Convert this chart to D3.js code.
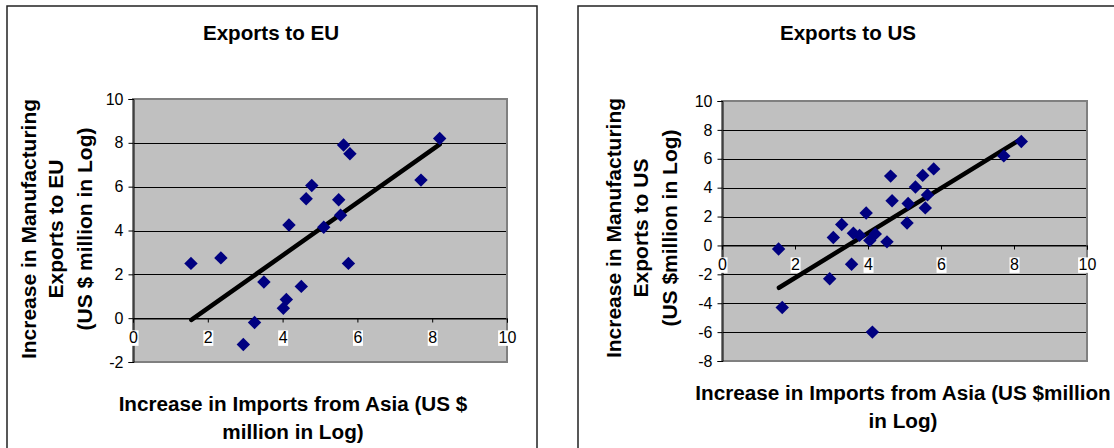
<!DOCTYPE html>
<html>
<head>
<meta charset="utf-8">
<script src="https://cdn.jsdelivr.net/npm/d3@7"></script>
<style>
  html, body { margin: 0; padding: 0; background: #fff; }
  svg { display: block; font-family: "Liberation Sans", Arial, sans-serif; }
</style>
</head>
<body>
<svg id="chart" width="1114" height="448"></svg>
<script>
// ---- Data ----
const xTicks = [0, 2, 4, 6, 8, 10];
const euYTicks = [-2, 0, 2, 4, 6, 8, 10];
const usYTicks = [-8, -6, -4, -2, 0, 2, 4, 6, 8, 10];

const euX = [1.55, 2.35, 2.95, 3.25, 3.5, 4.02, 4.1, 4.17, 4.5, 4.63, 4.78, 5.1, 5.5, 5.55, 5.63, 5.8, 5.76, 7.7, 8.2];
const euY = [2.5, 2.75, -1.2, -0.2, 1.65, 0.45, 0.85, 4.25, 1.45, 5.45, 6.05, 4.15, 5.4, 4.7, 7.9, 7.5, 2.5, 6.3, 8.2];
const euTrendX = [1.56, 8.2];
const euTrendY = [-0.08, 7.93];

const usX = [1.55, 1.65, 2.95, 3.05, 3.28, 3.55, 3.6, 3.77, 3.95, 4.05, 4.2, 4.12, 4.52, 4.62, 4.66, 5.07, 5.1, 5.3, 5.5, 5.57, 5.63, 5.8, 7.72, 8.2];
const usY = [-0.25, -4.3, -2.3, 0.55, 1.45, -1.3, 0.85, 0.7, 2.25, 0.35, 0.8, -6.0, 0.25, 4.8, 3.1, 1.55, 2.9, 4.05, 4.85, 2.6, 3.5, 5.3, 6.2, 7.2];
const usTrendX = [1.56, 8.19];
const usTrendY = [-2.93, 7.37];

const euTitle = "Exports to EU";
const euYTitle = ["Increase in Manufacturing", "Exports to EU", "(US $ million in Log)"];
const euXTitle = ["Increase in Imports from Asia (US $", "million in Log)"];
const usTitle = "Exports to US";
const usYTitle = ["Increase in Manufacturing", "Exports to US", "(US $million in Log)"];
const usXTitle = ["Increase in Imports from Asia (US $million", "in Log)"];

const svg = d3.select("#chart");
const fmt = d => String(d);

function drawChart(cfg) {
  const g = svg.append("g");
  // outer frame
  g.append("rect")
    .attr("x", cfg.box[0]).attr("y", cfg.box[1])
    .attr("width", cfg.box[2]).attr("height", cfg.box[3])
    .attr("fill", "#fff").attr("stroke", "#222").attr("stroke-width", 1.5);

  const x = d3.scaleLinear().domain([0, 10]).range([cfg.plot.left, cfg.plot.right]);
  const y = d3.scaleLinear().domain(cfg.yDomain).range([cfg.plot.bottom, cfg.plot.top]);

  // plot area
  g.append("rect")
    .attr("x", cfg.plot.left).attr("y", cfg.plot.top)
    .attr("width", cfg.plot.right - cfg.plot.left)
    .attr("height", cfg.plot.bottom - cfg.plot.top)
    .attr("fill", "#c0c0c0");

  // gridlines
  g.append("g").selectAll("line").data(cfg.yTicks.filter(v => v !== cfg.yDomain[0] && v !== cfg.yDomain[1]))
    .join("line")
    .attr("x1", cfg.plot.left).attr("x2", cfg.plot.right)
    .attr("y1", d => Math.round(y(d)) + 0.5).attr("y2", d => Math.round(y(d)) + 0.5)
    .attr("stroke", "#000").attr("stroke-width", 1);

  // plot border (gray)
  g.append("rect")
    .attr("x", cfg.plot.left).attr("y", cfg.plot.top)
    .attr("width", cfg.plot.right - cfg.plot.left)
    .attr("height", cfg.plot.bottom - cfg.plot.top)
    .attr("fill", "none").attr("stroke", "#808080").attr("stroke-width", 2);

  // y axis
  const yAxis = d3.axisLeft(y).tickValues(cfg.yTicks).tickSize(5).tickPadding(5).tickFormat(fmt);
  const ya = g.append("g").attr("transform", `translate(${cfg.plot.left + 0.5},0)`).call(yAxis);
  ya.select(".domain").attr("stroke", "#000");
  ya.selectAll(".tick line").attr("stroke", "#000");
  ya.selectAll("text").attr("font-size", 16).attr("fill", "#000")
    .attr("font-family", "Liberation Sans, Arial, sans-serif");

  // x axis at y = 0
  const y0 = Math.round(y(0)) + 0.5;
  const xAxis = d3.axisBottom(x).tickValues(xTicks).tickSize(4).tickPadding(9).tickFormat(fmt);
  const xa = g.append("g").attr("transform", `translate(0,${y0})`).call(xAxis);
  xa.select(".domain").attr("stroke", "#000");
  xa.selectAll(".tick line").attr("stroke", "#000");
  xa.selectAll(".tick text").attr("font-size", 16).attr("fill", "#000")
    .attr("font-family", "Liberation Sans, Arial, sans-serif");
  // white label backgrounds
  xa.selectAll(".tick").each(function () {
    const t = d3.select(this).select("text");
    const bb = t.node().getBBox();
    d3.select(this).insert("rect", "text")
      .attr("x", bb.x - 0.5).attr("y", bb.y + 1.5)
      .attr("width", bb.width + 1).attr("height", bb.height - 1.5)
      .attr("fill", "#fff");
  });

  // trend line
  const trend = d3.zip(cfg.trendX, cfg.trendY);
  g.append("path")
    .attr("d", d3.line().x(d => x(d[0])).y(d => y(d[1]))(trend))
    .attr("fill", "none").attr("stroke", "#000").attr("stroke-width", 4.5)
    .attr("stroke-linecap", "round");

  // points
  const pts = d3.zip(cfg.xs, cfg.ys);
  const sym = d3.symbol(d3.symbolSquare, 90);
  g.append("g").selectAll("path").data(pts).join("path")
    .attr("d", sym)
    .attr("transform", d => `translate(${x(d[0])},${y(d[1])}) rotate(45)`)
    .attr("fill", "#000080");

  // title
  g.append("text")
    .attr("x", cfg.titlePos[0]).attr("y", cfg.titlePos[1]).attr("dy", "0.35em")
    .attr("text-anchor", "middle").attr("font-weight", "bold").attr("font-size", 20.6)
    .text(cfg.title);

  // y title
  cfg.yTitle.forEach((t, i) => {
    g.append("text")
      .attr("transform", `translate(${cfg.yTitleX[i]},${cfg.yTitleCY}) rotate(-90)`)
      .attr("dy", "0.35em")
      .attr("text-anchor", "middle").attr("font-weight", "bold").attr("font-size", 21)
      .text(t);
  });

  // x title
  cfg.xTitle.forEach((t, i) => {
    g.append("text")
      .attr("x", cfg.xTitleCX).attr("y", cfg.xTitleY[i]).attr("dy", "0.35em")
      .attr("text-anchor", "middle").attr("font-weight", "bold").attr("font-size", 20.7)
      .text(t);
  });
}

drawChart({
  box: [7, 6, 530, 460],
  plot: { left: 133, right: 507, top: 99, bottom: 362 },
  yDomain: [-2, 10], yTicks: euYTicks,
  xs: euX, ys: euY, trendX: euTrendX, trendY: euTrendY,
  title: euTitle, titlePos: [271, 33],
  yTitle: euYTitle, yTitleX: [29, 56, 85], yTitleCY: 229,
  xTitle: euXTitle, xTitleCX: 293, xTitleY: [404, 432]
});

drawChart({
  box: [578, 6, 560, 460],
  plot: { left: 722, right: 1087, top: 101, bottom: 361 },
  yDomain: [-8, 10], yTicks: usYTicks,
  xs: usX, ys: usY, trendX: usTrendX, trendY: usTrendY,
  title: usTitle, titlePos: [848, 33],
  yTitle: usYTitle, yTitleX: [614, 641, 670], yTitleCY: 228,
  xTitle: usXTitle, xTitleCX: 903, xTitleY: [393, 421]
});
</script>
</body>
</html>
